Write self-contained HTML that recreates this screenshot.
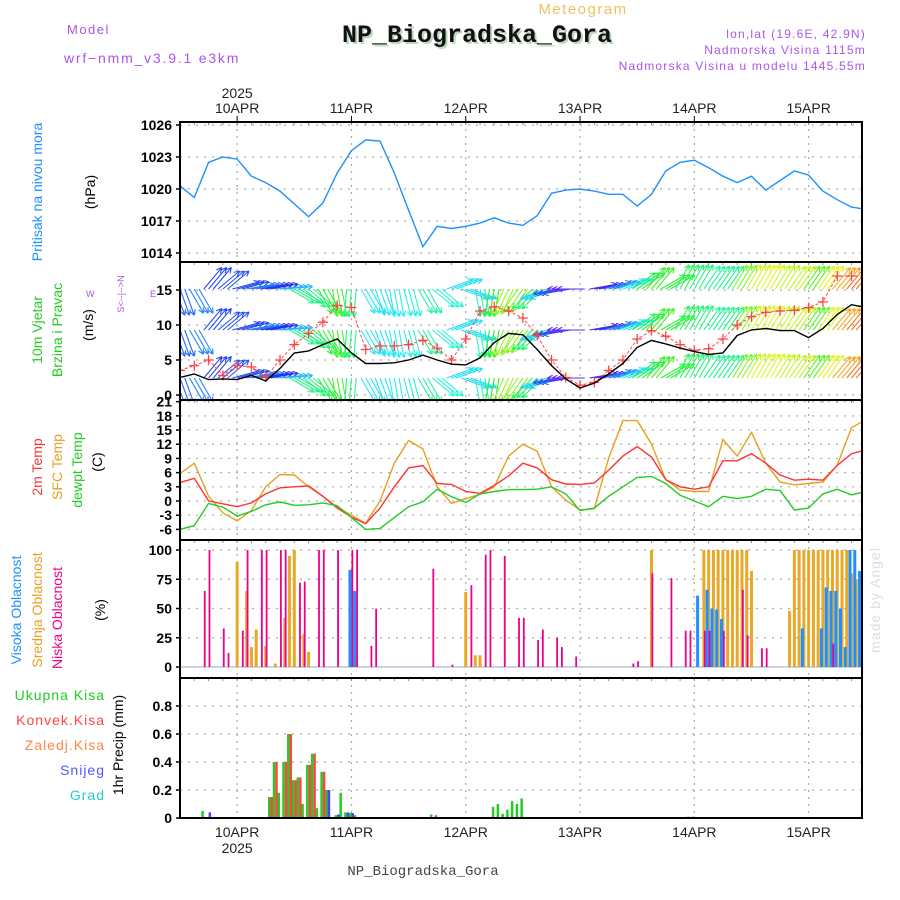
<!DOCTYPE html>
<html><head><meta charset="utf-8"><style>
html,body{margin:0;padding:0;background:#fff;}
svg{display:block;font-family:"Liberation Sans",sans-serif;}
</style></head><body>
<svg id="chart" width="900" height="900" viewBox="0 0 900 900" xmlns="http://www.w3.org/2000/svg">
<g>
<text x="67" y="34" font-size="13" fill="#aa55ee" letter-spacing="1.5">Model</text>
<text x="64" y="63" font-size="14" fill="#aa55ee" letter-spacing="1.8">wrf−nmm_v3.9.1 e3km</text>
<text x="583" y="14" font-size="15" fill="#f0c060" text-anchor="middle" letter-spacing="1.5">Meteogram</text>
<text x="479" y="44" font-size="25" font-weight="bold" font-family="Liberation Mono, monospace" fill="#bcd8bc" text-anchor="middle">NP_Biogradska_Gora</text>
<text x="477" y="42" font-size="25" font-weight="bold" font-family="Liberation Mono, monospace" fill="#111" text-anchor="middle">NP_Biogradska_Gora</text>
<text x="866" y="38" font-size="12" fill="#aa55ee" text-anchor="end" letter-spacing="1.2">lon,lat (19.6E, 42.9N)</text>
<text x="866" y="54" font-size="12" fill="#aa55ee" text-anchor="end" letter-spacing="1.2">Nadmorska Visina 1115m</text>
<text x="866" y="70" font-size="12" fill="#aa55ee" text-anchor="end" letter-spacing="1.2">Nadmorska Visina u modelu 1445.55m</text>
<text x="880" y="600" font-size="14" fill="#d8e0d8" text-anchor="middle" transform="rotate(-90 880 600)" letter-spacing="1">made by Angel</text>
<text x="423" y="875" font-size="14" font-family="Liberation Mono, monospace" fill="#444" text-anchor="middle">NP_Biogradska_Gora</text>
</g>
<g font-size="14">
<text transform="translate(42,192) rotate(-90)" fill="#1e90ff" text-anchor="middle">Pritisak na nivou mora</text>
<text transform="translate(95,192) rotate(-90)" fill="#000" text-anchor="middle">(hPa)</text>
<text transform="translate(42,330) rotate(-90)" fill="#22cc22" text-anchor="middle">10m Vjetar</text>
<text transform="translate(62,330) rotate(-90)" fill="#22cc22" text-anchor="middle">Brzina i Pravac</text>
<text transform="translate(93,325) rotate(-90)" fill="#000" text-anchor="middle">(m/s)</text>
<text x="86" y="297" font-size="9" fill="#aa55ee">W</text>
<text x="150" y="297" font-size="9" fill="#aa55ee">E</text>
<text transform="translate(124,294) rotate(-90)" font-size="9" fill="#aa55ee" text-anchor="middle">S&lt;--|--&gt;N</text>
<text transform="translate(42,467) rotate(-90)" fill="#ff3333" text-anchor="middle">2m Temp</text>
<text transform="translate(62,467) rotate(-90)" fill="#e8a020" text-anchor="middle">SFC Temp</text>
<text transform="translate(82,470) rotate(-90)" fill="#22cc22" text-anchor="middle">dewpt Temp</text>
<text transform="translate(102,462) rotate(-90)" fill="#000" text-anchor="middle">(C)</text>
<text transform="translate(21,610) rotate(-90)" fill="#1e90ff" text-anchor="middle">Visoka Oblacnost</text>
<text transform="translate(42,610) rotate(-90)" fill="#e8a020" text-anchor="middle">Srednja Oblacnost</text>
<text transform="translate(62,618) rotate(-90)" fill="#ee0088" text-anchor="middle">Niska Oblacnost</text>
<text transform="translate(105,610) rotate(-90)" fill="#000" text-anchor="middle">(%)</text>
<text transform="translate(123,745) rotate(-90)" fill="#000" text-anchor="middle">1hr Precip (mm)</text>
<text x="105" y="700" fill="#22cc22" text-anchor="end" letter-spacing="1">Ukupna Kisa</text>
<text x="105" y="725" fill="#ff4444" text-anchor="end" letter-spacing="1">Konvek.Kisa</text>
<text x="105" y="750" fill="#ff8844" text-anchor="end" letter-spacing="1">Zaledj.Kisa</text>
<text x="105" y="775" fill="#5555ff" text-anchor="end" letter-spacing="1">Snijeg</text>
<text x="105" y="800" fill="#22cccc" text-anchor="end" letter-spacing="1">Grad</text>
</g>
</svg>
<script>
// ---- data (hours from 9 Apr 12Z, 3h steps) ----
const hours = Array.from({length:49},(_,i)=>i*3);
const dayLabels = ['10APR','11APR','12APR','13APR','14APR','15APR'];
const dayHours = [12,36,60,84,108,132];
const pressure = [1020.3,1019.2,1022.5,1023.0,1022.8,1021.2,1020.6,1019.8,1018.6,1017.4,1018.7,1021.5,1023.6,1024.6,1024.5,1021.5,1018,1014.6,1016.5,1016.3,1016.5,1016.8,1017.3,1016.8,1016.6,1017.5,1019.6,1019.9,1020,1019.8,1019.5,1019.5,1018.4,1019.5,1021.7,1022.5,1022.7,1022,1021.2,1020.6,1021.2,1019.9,1020.8,1021.7,1021.3,1019.8,1019,1018.3,1018.1];
const pressureTicks = [1014,1017,1020,1023,1026];
const windSpeed = [2.5,3.0,2.2,2.3,2.2,2.8,2.0,3.8,6.0,6.3,7.2,8.0,6.0,4.5,4.5,4.6,5.0,5.7,5.0,4.4,4.3,5.3,7.5,8.8,8.6,6.5,4.2,2.3,1.0,1.7,3.0,4.5,6.8,7.8,7.3,6.7,6.2,5.8,6.0,8.5,9.3,9.5,9.2,9.2,8.2,9.5,11.5,12.9,12.5];
const windGust = [3.5,4.2,5.0,2.8,4.2,4.0,2.6,5.0,7.2,8.8,10.4,12.8,12.5,6.5,7.0,7.0,7.2,7.8,6.7,5.0,8.0,12.0,12.6,12.0,11.0,8.5,5.0,2.5,1.4,1.8,3.5,5.0,8.0,9.2,8.4,7.2,6.4,6.6,8.0,10.0,11.2,11.8,12.0,12.1,12.5,13.3,17.0,17.0,17.0];
const windDir = [70,60,-50,-40,-15,-10,-10,-5,30,40,60,80,95,60,70,80,75,60,40,-20,20,80,100,115,125,135,160,170,180,-10,-15,-20,-35,-50,-30,-60,-60,-55,-55,-58,-60,-60,-58,-55,-55,-55,-50,-50,-50];
const windTicks = [0,5,10,15];
const temp2m = [3.9,4.8,0,-0.6,-1.2,-0.4,1.5,2.8,3.0,3.2,1.0,-1.5,-3.4,-4.8,-1.5,3.0,7.0,7.5,3.7,3.5,2.0,1.6,3.3,5.3,8.0,7.0,4.5,3.6,3.5,3.8,6.5,9.5,11.5,9.3,4.5,3.0,2.5,3.0,8.5,8.5,10.0,8.0,5.5,4.4,4.6,4.4,7.5,10.0,10.8];
const tempSfc = [5.8,8,1.0,-2.5,-4.2,-2.0,3.0,5.6,5.5,3.0,1.0,-1.3,-3.0,-4.7,0,8.0,12.8,11.0,3.0,-0.5,0.5,1.4,3.0,9.5,12.0,10.5,3,0.2,-1.9,-1.6,9.0,17.0,17.0,12,4.5,2.3,2.0,2.0,13.0,9.5,14.5,8,4.0,3.4,3.7,4.0,7.6,15.5,17.2];
const dewpoint = [-6.0,-5.2,-0.5,-1.3,-3.2,-2.2,-0.8,-0.2,-0.9,-0.8,-0.4,-1.0,-3.5,-6.0,-5.8,-3.5,-1.2,-0.2,2.5,0.9,-0.3,1.5,2.0,2.4,2.4,2.5,3.0,1.5,-2.0,-1.5,1.0,3.0,5.0,5.2,3.7,1.2,0,-1.2,1.0,0.5,1.0,2.5,2.2,-1.9,-1.5,1.5,2.5,1.3,2.0];
const tempTicks = [21,18,15,12,9,6,3,0,-3,-6];
const lowCloudHours = [5,6,9,10,13,14,17,18,21,22,25,26,29,30,33,36,37,40,41,53,57,61,64,65,68,71,72,75,76,79,80,83,95,96,99,103,106,107,110,111,114,118,119,122,123,137];
const lowCloud = [65,100,33,12,31,100,100,100,100,100,72,73,100,100,100,100,100,18,50,84,2,70,96,100,95,42,42,23,32,25,17,9,3,5,80,76,31,31,31,31,31,66,27,16,16,20];
const midCloudHours = [12,14,15,16,18,20,22,23,24,26,27,60,62,63,99,110,111,112,113,114,115,116,117,118,119,120,128,129,130,131,132,133,134,135,136,137,138,139,140,141,142];
const midCloud = [90,65,17,32,18,3,42,95,100,28,13,64,10,10,100,100,100,100,100,100,100,100,100,100,100,82,48,100,100,100,100,100,100,100,100,100,100,100,100,80,75];
const highCloudHours = [36,37,109,111,112,113,114,131,135,136,137,138,139,140,141,142,143];
const highCloud = [83,65,61,66,50,49,41,33,33,68,65,65,50,17,100,100,82];
const cloudTicks = [0,25,50,75,100];
const totalPrecipHours = [5,19,20,21,22,23,24,25,26,27,28,29,30,31,33,34,35,36,37,53,54,66,67,68,69,70,71,72,107,108];
const totalPrecip = [0.05,0.15,0.4,0.18,0.4,0.6,0.27,0.29,0.1,0.38,0.46,0.07,0.33,0.2,0.02,0.18,0.04,0.035,0.02,0.025,0.02,0.08,0.1,0.03,0.06,0.12,0.1,0.14,0.01,0.01];
const convPrecipHours = [19,20,22,23,24,25,27,28,30,31];
const convPrecip = [0.15,0.4,0.4,0.6,0.27,0.29,0.38,0.46,0.33,0.2];
const snowHours = [6,31,33,35,36];
const snowPrecip = [0.04,0.2,0.025,0.04,0.035];
const precipTicks = [0,0.2,0.4,0.6,0.8];

// ---- layout ----
const NS='http://www.w3.org/2000/svg';
const svg=document.getElementById('chart');
const X0=180,X1=862,PXD=114.3;
function xOf(h){return X0+h*PXD/24;}
const panels={
 pres:{top:122,bot:262,y:v=>253-(v-1014)*10.667},
 wind:{top:262,bot:400,y:v=>395-v*7},
 temp:{top:400,bot:540,y:v=>501-v*4.73},
 cloud:{top:540,bot:678,y:v=>667-v*1.17},
 prec:{top:678,bot:818,y:v=>818-v*140}
};
function el(tag,attrs,parent){const e=document.createElementNS(NS,tag);for(const k in attrs)e.setAttribute(k,attrs[k]);(parent||svg).appendChild(e);return e;}

const defs=el('defs',{});


for(const k in panels){const p=panels[k];const cp=el('clipPath',{id:'clip-'+k},defs);el('rect',{x:X0,y:p.top,width:X1-X0,height:p.bot-p.top},cp);}

function grid(k,ticks,fmt,name){
 const p=panels[k];
 const g=el('g',{});
 
 
 ticks.forEach(t=>{const y=p.y(t);
  const ln=el('line',{x1:X0,x2:X1,y1:y,y2:y,stroke:'#aaa','stroke-dasharray':'2,6','stroke-width':1.2},g);
  
  
  const tk=el('line',{x1:X0-4,x2:X0,y1:y,y2:y,stroke:'#000','stroke-width':1.5},g);
  
  
  const tx=el('text',{x:X0-8,y:y+5,'text-anchor':'end','font-size':14,'font-weight':'bold',fill:'#000'},g);
  tx.textContent=fmt(t);
  
  
 });
 dayHours.forEach(h=>{const x=xOf(h);
  const v=el('line',{x1:x,x2:x,y1:p.top,y2:p.bot,stroke:'#aaa','stroke-dasharray':'2,5','stroke-width':1.2},g);
  
  
 });
 for(let h=0;h<=144;h+=3){const x=xOf(h);if(x>X1)break;
  const m=el('line',{x1:x,x2:x,y1:p.top,y2:p.top+3,stroke:'#888','stroke-width':1},g);
  
  
 }
}
grid('pres',pressureTicks,t=>t,'pressure');
grid('wind',windTicks,t=>t,'wind');
grid('temp',tempTicks,t=>t,'temperature');
grid('cloud',cloudTicks,t=>t,'cloud');
grid('prec',precipTicks,t=>t===0?'0':t.toFixed(1),'precip');

function line(k,vals,color,name,w,dash){
 const p=panels[k];
 const d=vals.map((v,i)=>(i?'L':'M')+xOf(hours[i]).toFixed(1)+','+p.y(v).toFixed(1)).join(' ');
 const path=el('path',{d,fill:'none',stroke:color,'stroke-width':w||1.4,'clip-path':'url(#clip-'+k+')'});
 if(dash)path.setAttribute('stroke-dasharray',dash);
 
 
 return path;
}
line('pres',pressure,'#1e90ff','pressure-line',1.4);

function hueFor(v){const stops=[[0,275],[1.5,255],[2.5,220],[4,195],[6,150],[8,110],[9.5,65],[11,45],[13,20],[17,-30]];
 for(let i=1;i<stops.length;i++){if(v<=stops[i][0]){const a=stops[i-1],b=stops[i];return a[1]+(b[1]-a[1])*(v-a[0])/(b[0]-a[0]);}}return -30;}
const rows=[289,330,378];
const wg=el('g',{'clip-path':'url(#clip-wind)'});


windDir.forEach((dir,i)=>{
 const c='hsl('+((hueFor(windSpeed[i])+360)%360)+',90%,55%)';
 const a=dir*Math.PI/180,L=28;
 [-1,0,1].forEach(s=>{
  const x=xOf(hours[i]+s);
  rows.forEach(r=>{
   const tx=x+L*Math.cos(a),ty=r+L*Math.sin(a);
   const h1=a+Math.PI*0.85,h2=a-Math.PI*0.85;
   const ar=el('path',{d:`M${x},${r}L${tx},${ty}M${tx},${ty}L${tx+6*Math.cos(h1)},${ty+6*Math.sin(h1)}M${tx},${ty}L${tx+6*Math.cos(h2)},${ty+6*Math.sin(h2)}`,stroke:c,'stroke-width':1.1,fill:'none'},wg);
   
   
  });
 });
});
line('wind',windGust,'#ff4444','wind-gust-line',1,'3,2');
const gg=el('g',{'clip-path':'url(#clip-wind)'});


windGust.forEach((v,i)=>{const x=xOf(hours[i]),y=panels.wind.y(v);
 const c=el('path',{d:`M${x-5},${y}h10M${x},${y-5}v10`,stroke:'#ff4444','stroke-width':1.3},gg);
 
 
});
line('wind',windSpeed,'#000','wind-speed-line',1.4);

line('temp',tempSfc,'#e8a020','sfc-temp-line',1.4);
line('temp',temp2m,'#ff3333','temp-2m-line',1.4);
line('temp',dewpoint,'#22cc22','dewpoint-line',1.4);

function bars(k,hs,vals,color,off,w,name){
 const p=panels[k];const g=el('g',{'clip-path':'url(#clip-'+k+')'});
 
 
 hs.forEach((h,i)=>{const x=xOf(h)+off;const y=p.y(vals[i]);const y0=p.y(0);
  const r=el('rect',{x:x,y:Math.min(y,y0),width:w,height:Math.max(Math.abs(y0-y),0.8),fill:color},g);
  
  
 });
}
const base=el('line',{x1:X0,x2:X1,y1:667,y2:667,stroke:'#b8c8dd','stroke-width':1.5});


bars('cloud',midCloudHours,midCloud,'#e8a828',-1.5,3,'mid-cloud');
bars('cloud',highCloudHours,highCloud,'#1e90ff',-3,3,'high-cloud');
bars('cloud',lowCloudHours,lowCloud,'#ee0088',0,1.8,'low-cloud');
bars('prec',totalPrecipHours,totalPrecip,'#22cc22',-2.5,2.5,'total-precip');
bars('prec',convPrecipHours,convPrecip,'#ff4444',0,2.5,'convective-precip');
bars('prec',snowHours,snowPrecip,'#4444ff',0,2.5,'snow-precip');

for(const k in panels){const p=panels[k];
 const f=el('rect',{x:X0,y:p.top,width:X1-X0,height:p.bot-p.top,fill:'none',stroke:'#000','stroke-width':2});
 
 
}
dayHours.forEach((h,i)=>{const x=xOf(h);
 const t=el('text',{x,y:113,'text-anchor':'middle','font-size':14,fill:'#222'});
 t.textContent=dayLabels[i];
 
 
 const tk=el('line',{x1:x,x2:x,y1:116,y2:122,stroke:'#000','stroke-width':1});
 
 
 const b=el('text',{x,y:837,'text-anchor':'middle','font-size':14,fill:'#222'});
 b.textContent=dayLabels[i];
 
 
});
const yt=el('text',{x:xOf(12),y:98,'text-anchor':'middle','font-size':14,fill:'#222'});
yt.textContent='2025';


const yb=el('text',{x:xOf(12),y:853,'text-anchor':'middle','font-size':14,fill:'#222'});
yb.textContent='2025';


</script>
</body></html>
